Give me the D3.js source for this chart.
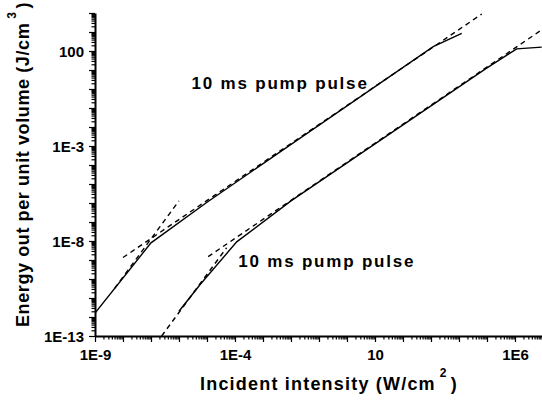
<!DOCTYPE html>
<html>
<head>
<meta charset="utf-8">
<script src="https://cdn.jsdelivr.net/npm/d3@7"></script>
<style>
  html, body { margin: 0; padding: 0; background: #fff; }
  svg { display: block; font-family: "Liberation Sans", Arial, sans-serif; }
</style>
</head>
<body>
<svg id="chart" width="542" height="404"></svg>
<script>
// Axis ticks (labelled decades)
const xTickValues = [1e-9, 1e-4, 10, 1e6];
const xTickLabels = ["1E-9", "1E-4", "10", "1E6"];
const yTickValues = [1e-13, 1e-8, 1e-3, 100];
const yTickLabels = ["1E-13", "1E-8", "1E-3", "100"];

// Upper curve: measured output (solid)
const upperX = [1e-9, 1e-7, 1e-5, 1.2e3, 1.25e4];
const upperY = [1.6e-12, 8e-9, 1.1e-6, 1.7e2, 8.5e2];
// Upper curve: power-law fits (dashed)
const upperFitAX = [1e-8, 6.5e4];
const upperFitAY = [1.35e-9, 8.8e3];
const upperFitBX = [5e-9, 1e-6];
const upperFitBY = [3.2e-11, 1.3e-6];

// Lower curve: measured output (solid)
const lowerX = [1e-6, 5.6e-6, 1.15e-4, 1e-2, 1e5, 1.15e6, 9e6];
const lowerY = [2e-12, 5e-11, 9e-9, 1.3e-6, 1.3e1, 1.3e2, 1.6e2];
// Lower curve: power-law fits (dashed)
const lowerFitAX = [1.1e-5, 9e6];
const lowerFitAY = [1.5e-9, 1.3e3];
const lowerFitBX = [2.4e-7, 5e-5];
const lowerFitBY = [1e-13, 4.4e-9];

// Curve annotations
const labels = ["10 ms pump pulse", "10 ms pump pulse"];
const labelAnchorX = [2.8e-6, 1.3e-4];
const labelAnchorY = [1, 4.2e-10];

const svg = d3.select("#chart");
const margin = { left: 95, right: 0, top: 13, bottom: 68 };
const W = 542, H = 404;

const x = d3.scaleLog().domain([1e-9, 1e7]).range([margin.left, margin.left + 28 * 16]);
const y = d3.scaleLog().domain([1e-13, 1e4]).range([H - margin.bottom, margin.top]);

svg.append("defs").append("clipPath").attr("id", "plotClip")
  .append("rect")
  .attr("x", margin.left).attr("y", margin.top - 1)
  .attr("width", W - margin.left).attr("height", (H - margin.bottom) - margin.top + 1);

// Every 1..9 x 10^k tick position within a log domain
function logTicks(domain) {
  const lo = Math.round(Math.log10(domain[0])), hi = Math.round(Math.log10(domain[1]));
  const out = [];
  for (let e = lo; e <= hi; e++) {
    for (let m = 1; m <= 9; m++) {
      const v = m * Math.pow(10, e);
      if (v >= domain[0] * 0.999 && v <= domain[1] * 1.001) out.push(v);
    }
  }
  return out;
}
function isDecade(v) {
  const l = Math.log10(v);
  return Math.abs(l - Math.round(l)) < 1e-6;
}
function labelIndex(list, d) {
  return list.findIndex(t => Math.abs(Math.log10(t) - Math.log10(d)) < 1e-6);
}

// X axis
const xAxis = d3.axisBottom(x)
  .tickValues(logTicks(x.domain()))
  .tickSizeOuter(0)
  .tickFormat("");
const gx = svg.append("g")
  .attr("transform", `translate(0,${H - margin.bottom})`)
  .call(xAxis);
gx.selectAll(".tick line")
  .attr("y2", d => isDecade(d) ? 6 : 3.5)
  .attr("stroke-width", 1.2);
gx.select(".domain").attr("stroke-width", 2);
gx.selectAll(".tick")
  .filter(d => labelIndex(xTickValues, d) >= 0)
  .append("text")
  .attr("y", 24)
  .attr("fill", "#000")
  .attr("text-anchor", "middle")
  .style("font-size", "15px")
  .style("font-weight", "bold")
  .text(d => xTickLabels[labelIndex(xTickValues, d)]);

// Y axis
const yAxis = d3.axisLeft(y)
  .tickValues(logTicks(y.domain()))
  .tickSizeOuter(0)
  .tickFormat("");
const gy = svg.append("g")
  .attr("transform", `translate(${margin.left},0)`)
  .call(yAxis);
gy.selectAll(".tick line")
  .attr("x2", d => isDecade(d) ? -6 : -3.5)
  .attr("stroke-width", 1.2);
gy.select(".domain").attr("stroke-width", 2);
gy.selectAll(".tick")
  .filter(d => labelIndex(yTickValues, d) >= 0)
  .append("text")
  .attr("x", -11)
  .attr("dy", "0.36em")
  .attr("fill", "#000")
  .attr("text-anchor", "end")
  .style("font-size", "15px")
  .style("font-weight", "bold")
  .text(d => yTickLabels[labelIndex(yTickValues, d)]);

// Curves
const line = d3.line().x(d => x(d[0])).y(d => y(d[1]));
const plot = svg.append("g").attr("clip-path", "url(#plotClip)");

function drawSeries(xs, ys, dashed) {
  plot.append("path")
    .datum(d3.zip(xs, ys))
    .attr("d", line)
    .attr("fill", "none")
    .attr("stroke", "#000")
    .attr("stroke-width", 1.4)
    .attr("stroke-dasharray", dashed ? "5,4" : null);
}
drawSeries(upperFitAX, upperFitAY, true);
drawSeries(upperFitBX, upperFitBY, true);
drawSeries(lowerFitAX, lowerFitAY, true);
drawSeries(lowerFitBX, lowerFitBY, true);
drawSeries(upperX, upperY, false);
drawSeries(lowerX, lowerY, false);

// Annotations
svg.selectAll("text.note")
  .data(labels)
  .join("text")
  .attr("class", "note")
  .attr("x", (d, i) => x(labelAnchorX[i]))
  .attr("y", (d, i) => y(labelAnchorY[i]))
  .attr("fill", "#000")
  .style("font-size", "17px")
  .style("font-weight", "bold")
  .style("letter-spacing", "1.8px")
  .text(d => d);

// Axis titles
const xTitle = svg.append("text")
  .attr("x", 200).attr("y", 390)
  .attr("fill", "#000")
  .style("font-size", "18px")
  .style("font-weight", "bold")
  .style("letter-spacing", "1.2px");
xTitle.append("tspan").text("Incident intensity (W/cm");
xTitle.append("tspan").attr("dx", 4).attr("dy", -13).style("font-size", "12px").text("2");
xTitle.append("tspan").attr("dx", 3).attr("dy", 13).text(")");

const yTitle = svg.append("text")
  .attr("transform", "translate(29,327) rotate(-90)")
  .attr("fill", "#000")
  .style("font-size", "18px")
  .style("font-weight", "bold")
  .style("letter-spacing", "0.6px");
yTitle.append("tspan").text("Energy out per unit volume (J/cm");
yTitle.append("tspan").attr("dx", 4).attr("dy", -13).style("font-size", "12px").text("3");
yTitle.append("tspan").attr("dx", 3).attr("dy", 13).text(")");
</script>
</body>
</html>
